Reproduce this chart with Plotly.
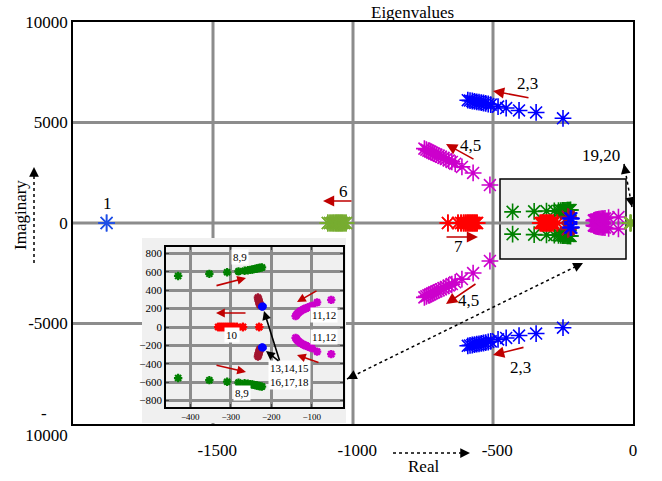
import plotly.graph_objects as go

# ---------------- data (eigenvalues: real part, positive imaginary part) ----------------
mode1_re = [-1880]
mode1_im = [0]

mode23_re = [-590, -582, -574, -566, -558, -550, -542, -534, -526, -517, -508, -482, -453, -407, -346, -250]
mode23_im = [6110, 6090, 6070, 6050, 6030, 6010, 5990, 5970, 5950, 5920, 5890, 5790, 5720, 5600, 5500, 5210]

mode45_re = [-745, -738, -731, -724, -717, -710, -702, -694, -686, -677, -668, -658, -647, -635, -611, -571, -511]
mode45_im = [3700, 3650, 3600, 3550, 3500, 3450, 3400, 3350, 3300, 3240, 3180, 3110, 3040, 2950, 2790, 2490, 1890]

mode6_re = [-1090, -1082, -1075, -1069, -1063, -1058, -1053, -1048, -1043, -1038, -1032, -1025]
mode6_im = [0, 0, 0, 0, 0, 0, 0, 0, 0, 0, 0, 0]

mode7_re = [-661, -625, -614, -605, -598, -592, -587, -582, -577, -572, -567, -562, -557]
mode7_im = [0, 0, 0, 0, 0, 0, 0, 0, 0, 0, 0, 0, 0]

mode89_re = [-430, -353, -309, -281, -266, -258, -252, -247, -243, -239, -235, -231, -227, -223]
mode89_im = [555, 578, 595, 605, 612, 617, 621, 625, 629, 633, 637, 641, 645, 648]

mode10_re = [-331, -326, -321, -316, -311, -306, -301, -296, -291, -285, -270, -230]
mode10_im = [0, 0, 0, 0, 0, 0, 0, 0, 0, 0, 0, 0]

mode1112_re = [-140, -138, -136, -133, -130, -126, -122, -118, -114, -110, -105, -100, -87, -52]
mode1112_im = [118, 130, 142, 155, 167, 178, 188, 197, 205, 212, 220, 228, 268, 295]

mode1315_re = [-233, -232, -231, -230, -229, -228]
mode1315_im = [320, 300, 285, 270, 255, 240]

mode1618_re = [-224, -222, -220, -222]
mode1618_im = [222, 216, 224, 228]

mode1920_re = [-10, -7]
mode1920_im = [15, 10]

NB = "\u00a0"
main_xticks = [-2000, -1500, -1000, -500, 0]
main_xtext = ["", NB * 2 + "-1500", NB * 2 + "-1000", NB * 2 + "-500", "0"]
main_yticks = [-10000, -5000, 0, 5000, 10000]
main_ytext = ["-" + NB * 5 + "<br>10000", "-5000", "0", "5000", "10000"]
inset_xticks = [-400, -300, -200, -100]
inset_yticks = [-800, -600, -400, -200, 0, 200, 400, 600, 800]

# colours
C_BLUE1 = "#1f4fe6"
C_BLUE = "#0000FF"
C_MAG = "#CC00CC"
C_GREEN = "#008000"
C_RED = "#FF0000"
C_YG = "#77AC30"
C_DRED = "#A2142F"
C_ARROW = "#C00000"
FONT = "Liberation Serif"

# ---------------- geometry helpers (pixel -> paper) ----------------
W, H = 662, 481
L, R, T, B = 73, 29, 22, 57
PW, PH = W - L - R, H - T - B


def px(x):
    return (x - L) / PW


def py(y):
    return (H - B - y) / PH


def conj(re, im):
    return list(re) + list(re), list(im) + [-v for v in im]


fig = go.Figure()

series = [
    (mode1_re, mode1_im, C_BLUE1),
    (mode6_re, mode6_im, C_YG),
    (mode7_re, mode7_im, C_RED),
    (mode23_re, mode23_im, C_BLUE),
    (mode45_re, mode45_im, C_MAG),
    (mode89_re, mode89_im, C_GREEN),
    (mode10_re, mode10_im, C_RED),
    (mode1112_re, mode1112_im, C_MAG),
    (mode1315_re, mode1315_im, C_DRED),
    (mode1618_re, mode1618_im, C_BLUE),
    (mode1920_re, mode1920_im, C_YG),
]

for re, im, col in series:
    xs, ys = conj(re, im)
    fig.add_trace(go.Scatter(x=xs, y=ys, mode="markers", xaxis="x", yaxis="y",
                             marker=dict(symbol="asterisk-open", size=14, color=col,
                                         line=dict(color=col, width=1.6)),
                             showlegend=False, hoverinfo="skip"))

inset_series = [
    (mode89_re, mode89_im, C_GREEN, 7, 2.2),
    (mode10_re, mode10_im, C_RED, 7, 2.2),
    (mode1112_re, mode1112_im, C_MAG, 7, 2.4),
    (mode1315_re, mode1315_im, C_DRED, 7, 2.4),
    (mode1618_re, mode1618_im, C_BLUE, 6, 2.6),
]
for re, im, col, sz, lw in inset_series:
    xs, ys = conj(re, im)
    fig.add_trace(go.Scatter(x=xs, y=ys, mode="markers", xaxis="x2", yaxis="y2",
                             marker=dict(symbol="asterisk-open", size=sz, color=col,
                                         line=dict(color=col, width=lw)),
                             showlegend=False, hoverinfo="skip"))

GRID = "#8c8c8c"
shapes = []
# zoom box in main plot (below the grid)
shapes.append(dict(type="rect", xref="paper", yref="paper", x0=px(500), x1=px(626), y0=py(259), y1=py(179),
                   fillcolor="#f0f0f0", line=dict(color="black", width=1.5), layer="below"))
# main grid lines
for gx in [-1500, -1000, -500]:
    shapes.append(dict(type="line", xref="x", yref="paper", x0=gx, x1=gx, y0=0, y1=1,
                       line=dict(color=GRID, width=3), layer="below"))
for gy in [-5000, 0, 5000]:
    shapes.append(dict(type="line", xref="paper", yref="y", x0=0, x1=1, y0=gy, y1=gy,
                       line=dict(color=GRID, width=3), layer="below"))
# inset background
shapes.append(dict(type="rect", xref="paper", yref="paper", x0=px(142), x1=px(346), y0=py(423), y1=py(238),
                   fillcolor="#f0f0f0", line=dict(width=0), layer="below"))

annotations = []


def text(x, y, s, size=17, bg=None, **kw):
    d = dict(xref="paper", yref="paper", x=px(x), y=py(y), text=s, showarrow=False,
             font=dict(family=FONT, size=size, color="black"), xanchor="center", yanchor="middle")
    if bg:
        d["bgcolor"] = bg
        d["borderpad"] = 1
    d.update(kw)
    annotations.append(d)


def arrow(tail, tip, color=C_ARROW, width=1.6, head=2, size=1.4):
    annotations.append(dict(xref="paper", yref="paper", x=px(tip[0]), y=py(tip[1]), text="",
                            showarrow=True, ax=tail[0] - tip[0], ay=tail[1] - tip[1],
                            arrowcolor=color, arrowwidth=width, arrowhead=head, arrowsize=size, standoff=0))


def dotted(tail, tip, both=False):
    shapes.append(dict(type="line", xref="paper", yref="paper", x0=px(tail[0]), y0=py(tail[1]),
                       x1=px(tip[0]), y1=py(tip[1]), line=dict(color="black", width=1.5, dash="dot"),
                       layer="above"))
    ends = [(tail, tip)] + ([(tip, tail)] if both else [])
    for a, b in ends:
        dx, dy = b[0] - a[0], b[1] - a[1]
        n = (dx * dx + dy * dy) ** 0.5
        short = (b[0] - dx / n * 6, b[1] - dy / n * 6)
        arrow(short, b, color="black", width=1.5, head=2, size=1.3)


# titles
text(412, 12, "Eigenvalues")
text(423, 467, "Real")
text(20, 215, "Imaginary", textangle=-90)
dotted((393, 453), (470, 453))
dotted((34, 263), (34, 167))

# main labels + arrows
text(107, 203, "1")
text(343, 192, "6")
arrow((353, 201), (323, 201))
text(458, 247, "7")
arrow((445, 237), (478, 237))
text(527, 83, "2,3")
arrow((530, 98), (493, 91))
text(520, 367, "2,3")
arrow((525, 347), (493, 355))
text(470, 145, "4,5")
arrow((475, 160), (446, 144))
text(468, 300, "4,5")
arrow((477, 283), (446, 304))
text(601, 155, "19,20")
dotted((624, 164), (632, 207), both=True)
dotted((347, 379), (583, 263), both=True)

# inset labels + arrows
text(240, 257, "8,9", size=11, bg="white")
text(242, 393, "8,9", size=11, bg="white")
text(232, 335, "10", size=11, bg="white")
text(324, 315, "11,12", size=11, bg="white")
text(324, 337, "11,12", size=11, bg="white")
text(289, 375, "13,14,15<br>16,17,18", size=11, bg="white")
arrow((215, 286), (246, 278), size=1.1)
arrow((215, 365), (246, 372), size=1.1)
arrow((247, 313), (216, 313), size=1.1)
arrow((318, 290), (297, 302), size=1.1)
arrow((320, 363), (297, 355), size=1.1)
arrow((280, 362), (264, 311), color="black", size=1.1)
arrow((280, 362), (266, 351), color="black", size=1.1)

axis_font = dict(family=FONT, size=17, color="black")

fig.update_layout(
    width=W, height=H,
    margin=dict(l=L, r=R, t=T, b=B),
    paper_bgcolor="white",
    plot_bgcolor="rgba(0,0,0,0)",
    showlegend=False,
    shapes=shapes,
    annotations=annotations,
    xaxis=dict(domain=[0, 1], range=[-2000, 0], tickvals=main_xticks, ticktext=main_xtext,
               showgrid=False, zeroline=False, showline=True, mirror=True, linecolor="black",
               linewidth=1.5, ticks="", tickfont=axis_font, ticklabelstandoff=10, anchor="y"),
    yaxis=dict(domain=[0, 1], range=[-10000, 10000], tickvals=main_yticks, ticktext=main_ytext,
               showgrid=False, zeroline=False, showline=True, mirror=True, linecolor="black",
               linewidth=1.5, ticks="", tickfont=axis_font, anchor="x"),
    xaxis2=dict(domain=[px(166), px(343)], range=[-460, -23], tickvals=inset_xticks, anchor="y2",
                showgrid=True, gridcolor=GRID, gridwidth=2.5, zeroline=False, showline=True,
                mirror="ticks", linecolor="black", linewidth=1.5, ticks="inside", ticklen=3,
                tickfont=dict(family=FONT, size=9, color="black")),
    yaxis2=dict(domain=[py(407), py(247)], range=[-870, 870], tickvals=inset_yticks, anchor="x2",
                showgrid=True, gridcolor=GRID, gridwidth=2.5, zeroline=False, showline=True,
                mirror="ticks", linecolor="black", linewidth=1.5, ticks="inside", ticklen=3,
                tickfont=dict(family=FONT, size=11, color="black")),
)

fig.write_html("out.html", config={"displayModeBar": False},
               post_script="document.body.style.margin='0';document.body.style.padding='0';")
